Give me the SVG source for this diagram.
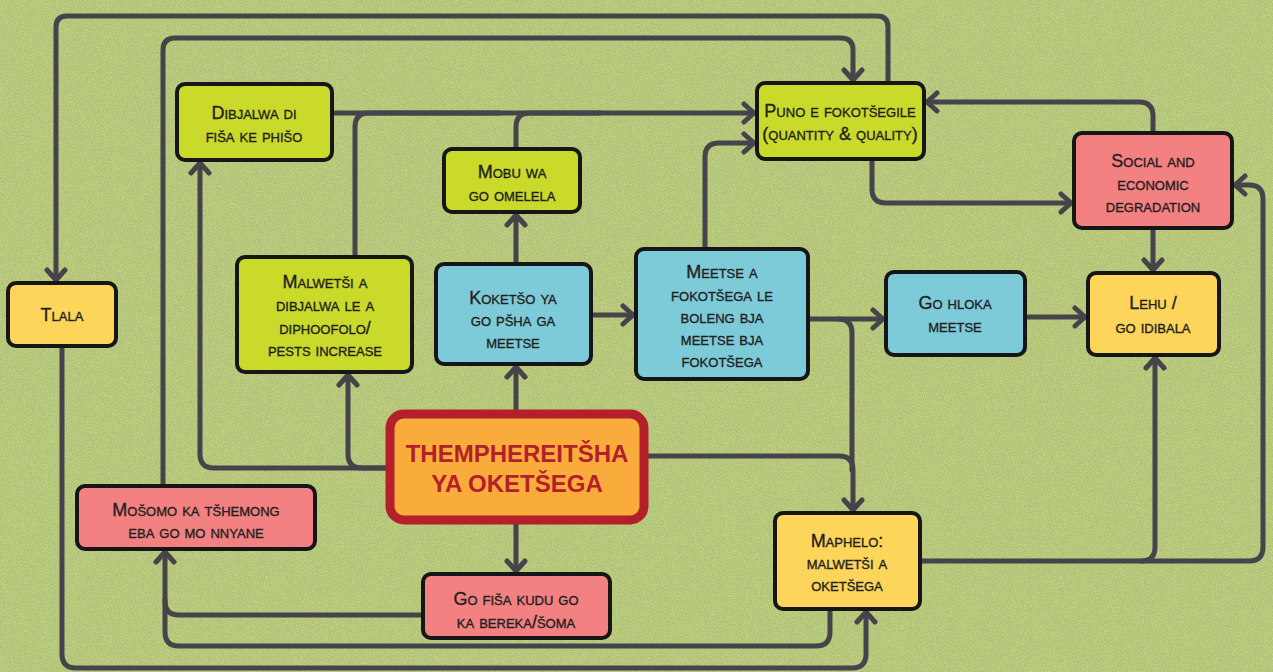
<svg xmlns="http://www.w3.org/2000/svg" width="1273" height="672" viewBox="0 0 1273 672">
<style>
.bg{fill:#bdd07c}
.box{stroke:#161616;stroke-width:4}
.g{fill:#c9da2a}.b{fill:#7dcad9}.y{fill:#fdd55b}.p{fill:#f38182}
.t{font-family:"Liberation Sans",Arial,sans-serif;font-size:18px;font-variant:small-caps;fill:#231f20;stroke:#231f20;stroke-width:0.35;text-anchor:middle}
.tt{font-family:"Liberation Sans",Arial,sans-serif;font-size:24px;font-weight:bold;fill:#b3202a;text-anchor:middle}
.c path{fill:none;stroke:#47434a;stroke-width:5;stroke-linecap:round;stroke-linejoin:round}
.a{marker-end:url(#ah)}
</style>
<defs>
<marker id="ah" viewBox="-14 -12 18 24" refX="0" refY="0" markerWidth="18" markerHeight="24" markerUnits="userSpaceOnUse" orient="auto">
<path d="M-10,-9 L0,0 L-10,9" fill="none" stroke="#47434a" stroke-width="5" stroke-linecap="round" stroke-linejoin="round"/>
</marker>
<filter id="speck" x="0" y="0" width="100%" height="100%">
<feTurbulence type="fractalNoise" baseFrequency="0.9" numOctaves="2" seed="3" result="n"/>
<feColorMatrix in="n" type="matrix" values="0 0 0 0 0.35  0 0 0 0 0.38  0 0 0 0 0.2  0 0 0 -9 5.2"/>
</filter>
</defs>
<rect class="bg" x="0" y="0" width="1273" height="672"/>
<rect x="0" y="0" width="1273" height="672" filter="url(#speck)" opacity="0.35"/>

<g id="connectors" class="c">
<path class="a" d="M888 83 V27 Q888 16 877 16 H67 Q56 16 56 27 V280"/>
<path class="a" d="M163 486 V50 Q163 38 175 38 H841 Q853 38 853 50 V80"/>
<path class="a" d="M332 113 H754"/>
<path d="M355 257 V127 Q355 113 369 113 H500"/>
<path d="M516 149 V127 Q516 113 530 113 H600"/>
<path class="a" d="M705 249 V157 Q705 143 719 143 H754"/>
<path class="a" d="M872 159 V189 Q872 203 886 203 H1071"/>
<path class="a" d="M1153 133 V116 Q1153 102 1139 102 H927"/>
<path class="a" d="M1153 228 V270"/>
<path class="a" d="M920 561 H1141 Q1155 561 1155 547 V358"/>
<path class="a" d="M1141 561 H1249 Q1263 561 1263 547 V199 Q1263 185 1249 185 H1235"/>
<path class="a" d="M591 315 H633"/>
<path class="a" d="M516 264 V215"/>
<path class="a" d="M516 410 V367"/>
<path class="a" d="M386 468 H214 Q200 468 200 454 V163"/>
<path class="a" d="M386 468 H362 Q348 468 348 454 V375"/>
<path class="a" d="M648 456 H839 Q853 456 853 470 V510"/>
<path class="a" d="M808 319 H883"/>
<path d="M838 319 Q852 319 852 333 V470"/>
<path class="a" d="M1025 317 H1085"/>
<path class="a" d="M516 524 V571"/>
<path class="a" d="M423 615 H179 Q165 615 165 601 V552"/>
<path d="M830 609 V632 Q830 646 816 646 H179 Q165 646 165 632 V600"/>
<path class="a" d="M62 346 V654 Q62 668 76 668 H852 Q866 668 866 654 V612"/>
</g>

<g id="n-dibjalwa"><rect class="box g" x="177" y="84" width="155" height="76" rx="8"/>
<text class="t"><tspan x="254" y="119">Dibjalwa di</tspan><tspan x="254" y="142">fiša ke phišo</tspan></text></g>
<g id="n-mobu"><rect class="box g" x="444" y="149" width="136" height="63" rx="8"/>
<text class="t"><tspan x="512" y="178">Mobu wa</tspan><tspan x="512" y="201">go omelela</tspan></text></g>
<g id="n-puno"><rect class="box g" x="757" y="83" width="167" height="76" rx="8"/>
<text class="t"><tspan x="840" y="117">Puno e fokotšegile</tspan><tspan x="840" y="140">(quantity &amp; quality)</tspan></text></g>
<g id="n-social"><rect class="box p" x="1074" y="133" width="158" height="95" rx="8"/>
<text class="t"><tspan x="1153" y="167">Social and</tspan><tspan x="1153" y="190">economic</tspan><tspan x="1153" y="212">degradation</tspan></text></g>
<g id="n-tlala"><rect class="box y" x="8" y="283" width="108" height="63" rx="8"/>
<text class="t"><tspan x="62" y="321">Tlala</tspan></text></g>
<g id="n-malwetsi"><rect class="box g" x="237" y="257" width="175" height="115" rx="8"/>
<text class="t"><tspan x="325" y="288">Malwetši a</tspan><tspan x="325" y="311">dibjalwa le a</tspan><tspan x="325" y="334">diphoofolo/</tspan><tspan x="325" y="356">pests increase</tspan></text></g>
<g id="n-koketso"><rect class="box b" x="436" y="264" width="155" height="100" rx="8"/>
<text class="t"><tspan x="513" y="304">Koketšo ya</tspan><tspan x="513" y="326">go pšha ga</tspan><tspan x="513" y="348">meetse</tspan></text></g>
<g id="n-meetse"><rect class="box b" x="636" y="249" width="172" height="130" rx="8"/>
<text class="t"><tspan x="722" y="278">Meetse a</tspan><tspan x="722" y="301">fokotšega le</tspan><tspan x="722" y="323">boleng bja</tspan><tspan x="722" y="345">meetse bja</tspan><tspan x="722" y="367">fokotšega</tspan></text></g>
<g id="n-gohloka"><rect class="box b" x="886" y="272" width="139" height="83" rx="8"/>
<text class="t"><tspan x="955" y="309">Go hloka</tspan><tspan x="955" y="332">meetse</tspan></text></g>
<g id="n-lehu"><rect class="box y" x="1088" y="273" width="131" height="82" rx="8"/>
<text class="t"><tspan x="1153" y="309">Lehu /</tspan><tspan x="1153" y="333">go idibala</tspan></text></g>
<g id="n-them"><rect x="390" y="414" width="254" height="106" rx="14" fill="#f9ab3c" stroke="#b3202a" stroke-width="9"/>
<text class="tt"><tspan x="517" y="462">THEMPHEREITŠHA</tspan><tspan x="517" y="492">YA OKETŠEGA</tspan></text></g>
<g id="n-mosomo"><rect class="box p" x="77" y="486" width="238" height="63" rx="8"/>
<text class="t"><tspan x="196" y="516">Mošomo ka tšhemong</tspan><tspan x="196" y="538">eba go mo nnyane</tspan></text></g>
<g id="n-gofisa"><rect class="box p" x="423" y="574" width="187" height="64" rx="8"/>
<text class="t"><tspan x="516" y="605">Go fiša kudu go</tspan><tspan x="516" y="628">ka bereka/šoma</tspan></text></g>
<g id="n-maphelo"><rect class="box y" x="775" y="513" width="145" height="96" rx="8"/>
<text class="t"><tspan x="847" y="547">Maphelo:</tspan><tspan x="847" y="569">malwetši a</tspan><tspan x="847" y="591">oketšega</tspan></text></g>
</svg>
